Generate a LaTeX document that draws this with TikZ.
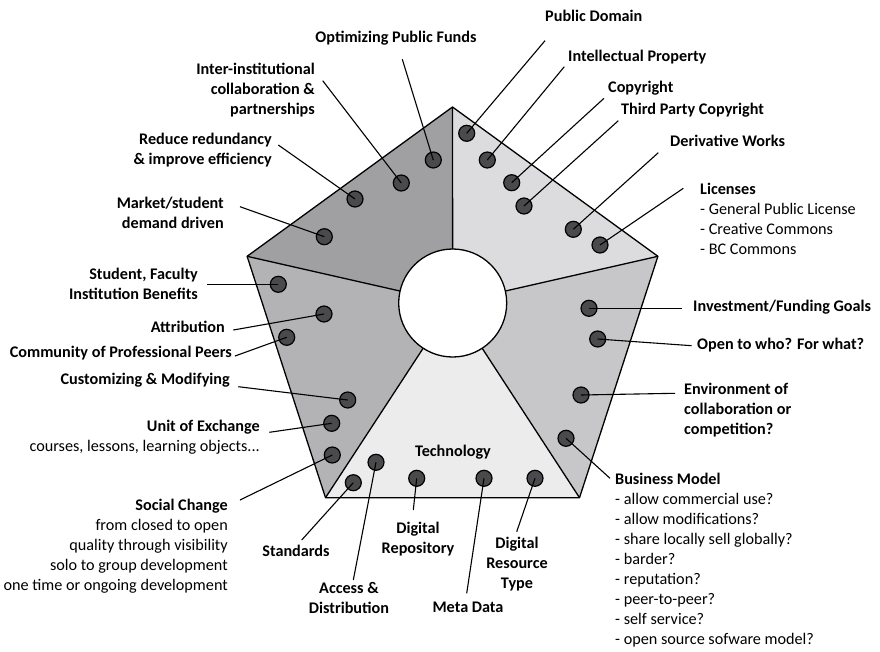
\documentclass[tikz,border=0pt]{standalone}
\usepackage{fontspec}
\setmainfont{Carlito}
\usepackage{tikz}

\definecolor{secA}{HTML}{A0A0A2}
\definecolor{secB}{HTML}{B3B3B5}
\definecolor{secC}{HTML}{ECECEC}
\definecolor{secD}{HTML}{C7C7C9}
\definecolor{secE}{HTML}{DCDCDE}
\definecolor{dotgray}{HTML}{4A4A4C}

\tikzset{
  edge/.style={line width=1.3pt,line join=round},
  dot/.style={circle,draw=black,line width=1.2pt,fill=dotgray,minimum size=16pt,inner sep=0pt},
  pin/.style={line width=1.1pt},
  lbl/.style={font=\bfseries\fontsize{16.2}{20}\selectfont,inner sep=0pt},
  lleft/.style={lbl,anchor=north east,align=right},
  lright/.style={lbl,anchor=north west,align=left},
  lbelow/.style={lbl,anchor=north,align=center}
}

\begin{document}
\begin{tikzpicture}[x=1pt,y=-1pt]
  \useasboundingbox (0,0) rectangle (880,651);

  % --- pentagon ---
  \coordinate (hub) at (452.7,303);
  \coordinate (p1) at (452.5,107);
  \coordinate (p2) at (247.1,256.3);
  \coordinate (p3) at (325.5,497.7);
  \coordinate (p4) at (579.5,497.7);
  \coordinate (p5) at (657.9,256.3);

  \fill[secA] (hub) -- (p1) -- (p2) -- cycle;
  \fill[secB] (hub) -- (p2) -- (p3) -- cycle;
  \fill[secC] (hub) -- (p3) -- (p4) -- cycle;
  \fill[secD] (hub) -- (p4) -- (p5) -- cycle;
  \fill[secE] (hub) -- (p5) -- (p1) -- cycle;
  \draw[edge] (p1) -- (p2) -- (p3) -- (p4) -- (p5) -- cycle;
  \foreach \i in {1,...,5}
    \draw[edge] (hub) -- (p\i);
  \node[circle,draw,fill=white,line width=1.3pt,minimum size=108pt,inner sep=0pt] (core) at (hub) {};

  \node[lbl] (tech) at (453,452) {Technology};

  % --- dots and the free ends of their pins ---
  \foreach \n/\dx/\dy/\ex/\ey in {
      funds/433.3/160/402.3/59.3, inter/401.3/183/322.7/80.7,
      reduce/355/199/278.3/145, market/324.3/236.7/240/206.7,
      student/278.3/284.3/207.3/284.3, attrib/324/314/233.3/330,
      peers/286.7/337.3/235/356, custom/347.7/400/238.3/386.7,
      unit/331.7/423.3/269.3/432.3, social/332.3/455/240/500,
      stand/353.3/482.7/301.7/540, access/376/462.3/353.3/580,
      repo/416.7/478.3/413.3/510, meta/484/478.3/466.7/593.3,
      restype/535/478.3/516.7/531.7, business/566/438.3/610/478.3,
      environ/581/395/675/393.3, open/597.7/339/691.7/345.7,
      invest/589/308.3/681.7/308.3, licenses/600/245/683.3/188.3,
      deriv/573.3/229.3/658.3/152.7, third/524/206/618.3/120.7,
      copyr/511.7/182.7/604/98.3, intprop/487.3/160/564.3/66.7,
      pubdom/466.7/133.3/545/40.7}
  {
    \node[dot] (\n) at (\dx,\dy) {};
    \coordinate (e-\n) at (\ex,\ey);
    \draw[pin] (\n.center) -- (e-\n);
  }

  % --- labels, left ---
  \node[lleft] (l-inter) at (315,63) {Inter-institutional\\collaboration \&\\partnerships};
  \node[lleft] (l-reduce) at (272,133) {Reduce redundancy\\\& improve efficiency};
  \node[lleft] (l-market) at (224,197) {Market/student\\demand driven};
  \node[lleft] (l-student) at (198,268) {Student, Faculty\\Institution Benefits};
  \node[lleft] (l-attrib) at (225,321) {Attribution};
  \node[lleft] (l-peers) at (232,346) {Community of Professional Peers};
  \node[lleft] (l-custom) at (230,373) {Customizing \& Modifying};
  \node[lleft] (l-unit) at (260,420) {Unit of Exchange\\{\mdseries courses, lessons, learning objects...}};
  \node[lleft] (l-social) at (228,499) {Social Change\\{\mdseries from closed to open}\\{\mdseries quality through visibility}\\{\mdseries solo to group development}\\{\mdseries one time or ongoing development}};

  % --- labels, top and right ---
  \node[lbelow] (l-funds) at (396,31) {Optimizing Public Funds};
  \node[lright] (l-pubdom) at (545,10) {Public Domain};
  \node[lright] (l-intprop) at (568,50) {Intellectual Property};
  \node[lright] (l-copyr) at (608,81) {Copyright};
  \node[lright] (l-third) at (621,103) {Third Party Copyright};
  \node[lright] (l-deriv) at (670,135) {Derivative Works};
  \node[lright] (l-licenses) at (700,183) {Licenses\\{\mdseries - General Public License}\\{\mdseries - Creative Commons}\\{\mdseries - BC Commons}};
  \node[lright] (l-invest) at (693,300) {Investment/Funding Goals};
  \node[lright] (l-open) at (697,338) {Open to who? For what?};
  \node[lright] (l-environ) at (684,383) {Environment of\\collaboration or\\competition?};
  \node[lright] (l-business) at (615,473) {Business Model\\{\mdseries - allow commercial use?}\\{\mdseries - allow modifications?}\\{\mdseries - share locally sell globally?}\\{\mdseries - barder?}\\{\mdseries - reputation?}\\{\mdseries - peer-to-peer?}\\{\mdseries - self service?}\\{\mdseries - open source sofware model?}};

  % --- labels, bottom ---
  \node[lbelow] (l-stand) at (296,545) {Standards};
  \node[lbelow] (l-access) at (349,582) {Access \&\\Distribution};
  \node[lbelow] (l-repo) at (418,522) {Digital\\Repository};
  \node[lbelow] (l-meta) at (468,602) {Meta Data};
  \node[lbelow] (l-restype) at (517,537) {Digital\\Resource\\Type};
\end{tikzpicture}
\end{document}
